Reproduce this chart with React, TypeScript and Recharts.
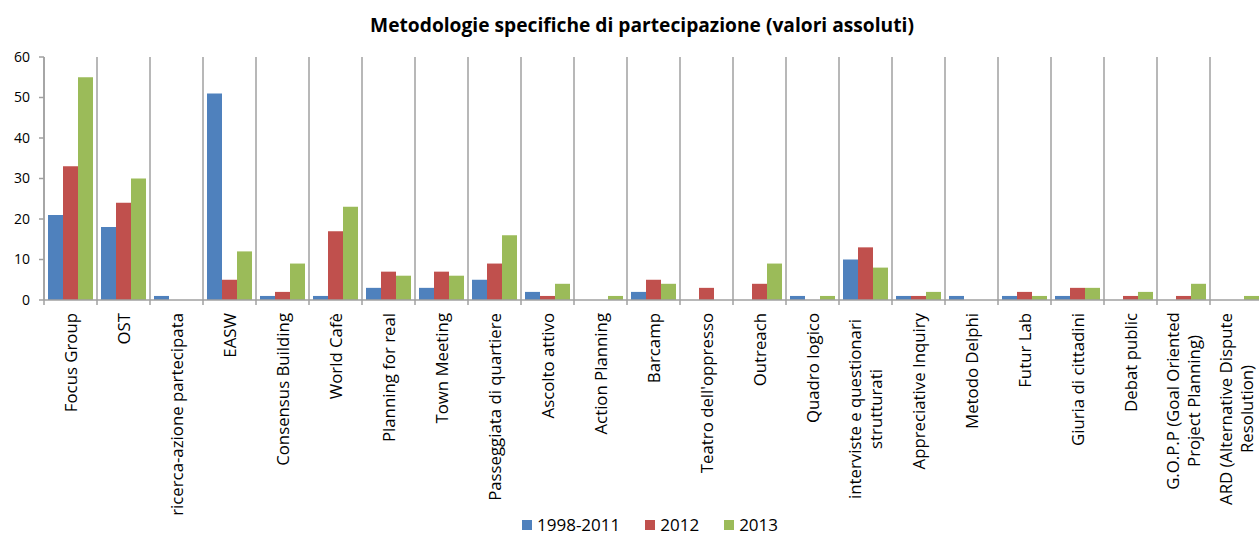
import { Bar, BarChart, CartesianGrid, XAxis, YAxis } from "recharts";

const categories = [
  "Focus Group",
  "OST",
  "ricerca-azione partecipata",
  "EASW",
  "Consensus Building",
  "World Cafè",
  "Planning for real",
  "Town Meeting",
  "Passeggiata di quartiere",
  "Ascolto attivo",
  "Action Planning",
  "Barcamp",
  "Teatro dell'oppresso",
  "Outreach",
  "Quadro logico",
  "interviste e questionari strutturati",
  "Appreciative Inquiry",
  "Metodo Delphi",
  "Futur Lab",
  "Giuria di cittadini",
  "Debat public",
  "G.O.P.P (Goal Oriented Project Planning)",
  "ARD (Alternative Dispute Resolution)",
];

const values1998_2011 = [21, 18, 1, 51, 1, 1, 3, 3, 5, 2, 0, 2, 0, 0, 1, 10, 1, 1, 1, 1, 0, 0, 0];
const values2012 = [33, 24, 0, 5, 2, 17, 7, 7, 9, 1, 0, 5, 3, 4, 0, 13, 1, 0, 2, 3, 1, 1, 0];
const values2013 = [55, 30, 0, 12, 9, 23, 6, 6, 16, 4, 1, 4, 0, 9, 1, 8, 2, 0, 1, 3, 2, 4, 1];

const yTicks = [0, 10, 20, 30, 40, 50, 60];

const series = [
  { key: "a", name: "1998-2011", color: "#4F81BD" },
  { key: "b", name: "2012", color: "#C0504D" },
  { key: "c", name: "2013", color: "#9BBB59" },
];

const data = categories.map((name, i) => ({
  name,
  a: values1998_2011[i],
  b: values2012[i],
  c: values2013[i],
}));

const FONT = "'Open Sans', sans-serif";
const CHART_W = 1264;
const PLOT_LEFT = 44;
const PLOT_RIGHT_MARGIN = 1;
const BAND = (CHART_W - PLOT_LEFT - PLOT_RIGHT_MARGIN) / categories.length;
const GRID = "#a0a0a0";
const LABEL_SIZE = 16.8;
const CHAR_W = 8; // rough average glyph width at LABEL_SIZE

// greedy word wrap, like Excel does for long category names
const wrap = (s: string, max: number) => {
  const words = s.split(" ");
  const lines: string[] = [];
  let cur = "";
  words.forEach((w) => {
    const next = cur ? cur + " " + w : w;
    if (next.length > max && cur) {
      lines.push(cur);
      cur = w;
    } else {
      cur = next;
    }
  });
  if (cur) lines.push(cur);
  return lines;
};

const CategoryTick = ({ x, y, payload }: any) => {
  const lines = wrap(payload.value, 26);
  const lh = 21;
  const longest = Math.max(...lines.map((l) => l.length));
  // lines are centred on each other, block hangs from just under the axis
  const mid = lines.length > 1 ? (longest * CHAR_W) / 2 : 0;
  return (
    <g>
      <line x1={x - BAND / 2} x2={x - BAND / 2} y1={y} y2={y + 5} stroke={GRID} strokeWidth={1.5} />
      <g transform={`translate(${x},${y + 13 + mid}) rotate(-90)`}>
        <text
          textAnchor={lines.length > 1 ? "middle" : "end"}
          fontSize={LABEL_SIZE}
          fill="#000"
          fontFamily={FONT}
        >
          {lines.map((l, i) => (
            <tspan key={i} x={0} y={(i - (lines.length - 1) / 2) * lh + 6}>
              {l}
            </tspan>
          ))}
        </text>
      </g>
    </g>
  );
};

export default function App() {
  return (
    <div
      style={{
        position: "fixed",
        left: 0,
        top: 0,
        width: 1259,
        height: 536,
        overflow: "hidden",
        background: "#fff",
        fontFamily: FONT,
      }}
    >
      <div
        style={{
          position: "absolute",
          left: 0,
          top: 11,
          width: 1284,
          textAlign: "center",
          fontWeight: "bold",
          fontSize: 19.2,
          color: "#000",
        }}
      >
        Metodologie specifiche di partecipazione (valori assoluti)
      </div>
      <BarChart
        width={CHART_W}
        height={536}
        data={data}
        margin={{ top: 57, right: PLOT_RIGHT_MARGIN, left: 0, bottom: 0 }}
        barCategoryGap={4}
        barGap={0}
      >
        <CartesianGrid
          horizontal={false}
          stroke={GRID}
          strokeWidth={1.5}
          verticalCoordinatesGenerator={({ offset }: any) =>
            [...categories, ""].map((_, i) => offset.left + (i * offset.width) / categories.length)
          }
        />
        <XAxis
          dataKey="name"
          interval={0}
          height={236}
          tickSize={0}
          tickMargin={0}
          tickLine={false}
          axisLine={{ stroke: GRID, strokeWidth: 1.5 }}
          tick={<CategoryTick />}
        />
        <YAxis
          width={PLOT_LEFT}
          domain={[0, 60]}
          ticks={yTicks}
          tickSize={5}
          tickMargin={9}
          axisLine={{ stroke: GRID, strokeWidth: 1.5 }}
          tickLine={{ stroke: GRID, strokeWidth: 1.5 }}
          tick={{ fontSize: 14, fill: "#000", fontFamily: FONT }}
        />
        {series.map((s) => (
          <Bar key={s.key} dataKey={s.key} name={s.name} fill={s.color} isAnimationActive={false} />
        ))}
      </BarChart>
      <div
        style={{
          position: "absolute",
          left: 522,
          top: 514,
          display: "flex",
          alignItems: "center",
          fontSize: 17,
          color: "#000",
          lineHeight: "22px",
        }}
      >
        {series.map((s) => (
          <div key={s.key} style={{ display: "flex", alignItems: "center", marginRight: 25 }}>
            <span style={{ width: 10, height: 10, background: s.color, marginRight: 5, display: "inline-block" }} />
            <span>{s.name}</span>
          </div>
        ))}
      </div>
    </div>
  );
}
